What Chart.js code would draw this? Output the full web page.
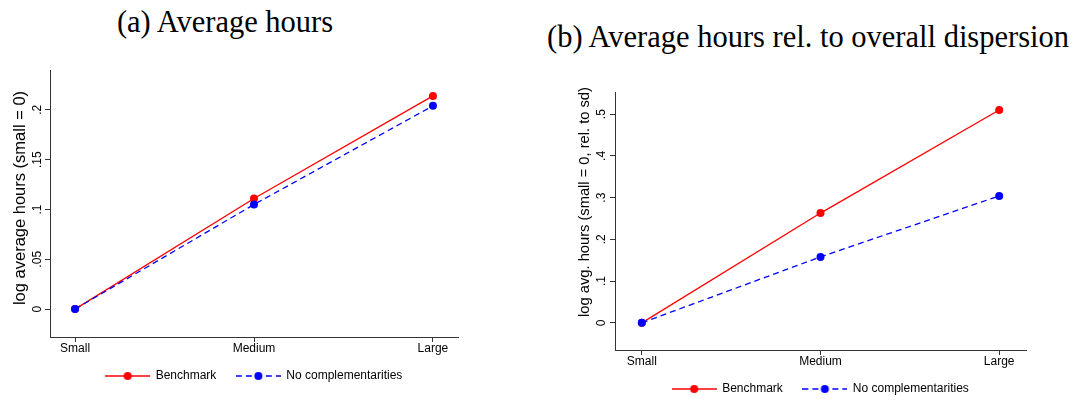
<!DOCTYPE html>
<html>
<head>
<meta charset="utf-8">
<script src="https://cdn.jsdelivr.net/npm/chart.js@4"></script>
<style>
  body { margin: 0; background: #fff; }
  #wrap { position: relative; width: 1078px; height: 412px; overflow: hidden; }
  .ttl { position: absolute; font-family: "Liberation Serif", serif; font-size: 30.5px; white-space: nowrap; color: #000; transform: translate(-50%, -50%); }
  #boxA { position: absolute; left: 0; top: 0; }
  #boxB { position: absolute; left: 540px; top: 0; }
</style>
</head>
<body>
<div id="wrap">
  <div class="ttl" style="left:225px;top:22px;">(a) Average hours</div>
  <div class="ttl" style="left:808px;top:37px;">(b) Average hours rel. to overall dispersion</div>
  <canvas id="boxA" width="540" height="412"></canvas>
  <canvas id="boxB" width="538" height="412"></canvas>
</div>
<script>
// data
var categories = ['Small', 'Medium', 'Large'];
var seriesNames = ['Benchmark', 'No complementarities'];
var hoursBenchmark = [0, 0.111, 0.214];
var hoursNoComp = [0, 0.105, 0.204];
var relBenchmark = [0, 0.263, 0.510];
var relNoComp = [0, 0.158, 0.304];
var ticksA = [0, 0.05, 0.1, 0.15, 0.2];
var tickLabelsA = ['0', '.05', '.1', '.15', '.2'];
var ticksB = [0, 0.1, 0.2, 0.3, 0.4, 0.5];
var tickLabelsB = ['0', '.1', '.2', '.3', '.4', '.5'];

var FONT = '"Liberation Sans", Arial, sans-serif';
var AXIS = '#333';

// tick labels and y title drawn Stata-style (rotated y labels)
var stataText = {
  id: 'stataText',
  afterDraw: function(chart) {
    var o = chart.options.plugins.stataText;
    var sx = chart.scales.x, sy = chart.scales.y;
    var ctx = chart.ctx;
    ctx.save();
    ctx.fillStyle = '#000';
    ctx.textAlign = 'center';
    ctx.textBaseline = 'middle';
    ctx.font = '12px ' + FONT;
    o.values.forEach(function(v, i) {
      ctx.save();
      ctx.translate(sy.right - o.gap, sy.getPixelForValue(v));
      ctx.rotate(-Math.PI / 2);
      ctx.fillText(o.labels[i], 0, 0);
      ctx.restore();
    });
    categories.forEach(function(c, i) {
      ctx.fillText(c, sx.getPixelForValue(i), sx.top + 12);
    });
    ctx.font = o.titleSize + 'px ' + FONT;
    ctx.translate(o.titleX, o.titleY);
    ctx.rotate(-Math.PI / 2);
    ctx.fillText(o.title, 0, 0);
    ctx.restore();
  }
};

function legendIcon(color, dash) {
  var c = document.createElement('canvas');
  c.width = 45; c.height = 10;
  var g = c.getContext('2d');
  g.strokeStyle = color;
  g.lineWidth = 1.3;
  g.setLineDash(dash || []);
  g.beginPath(); g.moveTo(0, 5); g.lineTo(45, 5); g.stroke();
  g.fillStyle = color;
  g.beginPath(); g.arc(22.5, 5, 4, 0, Math.PI * 2); g.fill();
  return c;
}

function toPoints(vals) {
  return vals.map(function(v, i) { return { x: i, y: v }; });
}

function makePanel(id, p) {
  return new Chart(document.getElementById(id), {
    type: 'line',
    data: {
      datasets: [{
        label: seriesNames[0],
        data: toPoints(p.red),
        borderColor: '#ff0000',
        backgroundColor: '#ff0000',
        borderWidth: 1.3,
        pointRadius: 4,
        pointBorderWidth: 0,
        order: 1
      }, {
        label: seriesNames[1],
        data: toPoints(p.blue),
        borderColor: '#0000ff',
        backgroundColor: '#0000ff',
        borderWidth: 1.3,
        borderDash: [6, 4],
        pointRadius: 4,
        pointBorderWidth: 0,
        order: 0
      }]
    },
    options: {
      responsive: false,
      animation: false,
      clip: false,
      layout: { padding: p.pad },
      scales: {
        x: {
          type: 'linear',
          min: -p.xPad, max: 2 + p.xPad,
          afterBuildTicks: function(s) { s.ticks = categories.map(function(c, i) { return { value: i }; }); },
          afterFit: function(s) { s.height = 13; },
          grid: { drawOnChartArea: false, drawTicks: true, tickLength: 5, color: AXIS },
          border: { display: true, color: AXIS, width: 1 },
          ticks: { display: false }
        },
        y: {
          min: p.yMin, max: p.yMax,
          afterBuildTicks: function(s) { s.ticks = p.yTicks.map(function(v) { return { value: v }; }); },
          afterFit: function(s) { s.width = p.yWidth; },
          grid: { drawOnChartArea: false, drawTicks: true, tickLength: 5, color: AXIS },
          border: { display: true, color: AXIS, width: 1 },
          ticks: { display: false }
        }
      },
      plugins: {
        tooltip: { enabled: false },
        stataText: {
          values: p.yTicks, labels: p.yLabels, gap: p.tickGap,
          title: p.yTitle, titleSize: p.titleSize, titleX: p.titleX, titleY: p.titleY
        },
        legend: {
          position: 'bottom',
          fullSize: false,
          labels: {
            usePointStyle: true,
            pointStyleWidth: 44,
            padding: 20,
            color: '#000',
            font: { family: FONT, size: 12 },
            generateLabels: function(chart) {
              return chart.data.datasets.map(function(ds, i) {
                return {
                  text: ds.label,
                  pointStyle: legendIcon(ds.borderColor, ds.borderDash),
                  fillStyle: ds.borderColor, strokeStyle: ds.borderColor,
                  lineWidth: 0, hidden: false, datasetIndex: i, fontColor: '#000'
                };
              });
            }
          }
        }
      }
    },
    plugins: [stataText]
  });
}

makePanel('boxA', {
  red: hoursBenchmark, blue: hoursNoComp,
  yMin: -0.028, yMax: 0.240, yTicks: ticksA, yLabels: tickLabelsA,
  yTitle: 'log average hours (small = 0)', titleSize: 16.5, titleX: 20, titleY: 198,
  yWidth: 50, tickGap: 12, xPad: 0.14,
  pad: { left: 0, top: 70, right: 82, bottom: 20 }
});

makePanel('boxB', {
  red: relBenchmark, blue: relNoComp,
  yMin: -0.065, yMax: 0.553, yTicks: ticksB, yLabels: tickLabelsB,
  yTitle: 'log avg. hours (small = 0, rel. to sd)', titleSize: 14.7, titleX: 45, titleY: 202,
  yWidth: 75, tickGap: 13, xPad: 0.15,
  pad: { left: 0, top: 92, right: 52, bottom: 7 }
});
</script>
</body>
</html>
